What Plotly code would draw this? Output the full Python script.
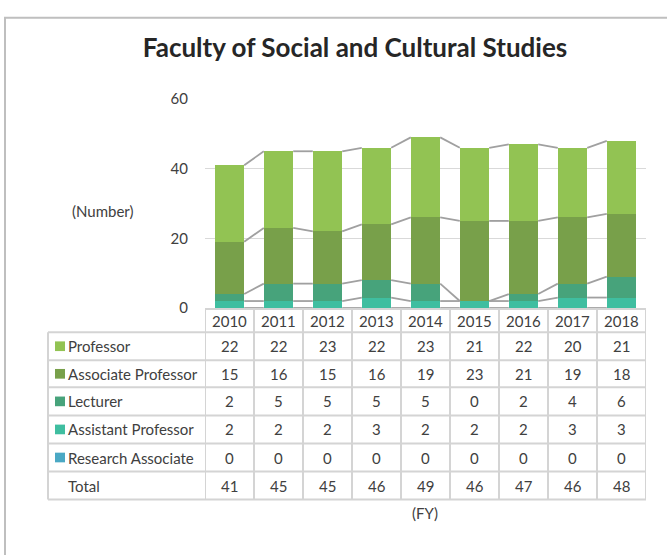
import plotly.graph_objects as go

years = [2010, 2011, 2012, 2013, 2014, 2015, 2016, 2017, 2018]
series_names = ["Professor", "Associate Professor", "Lecturer",
                "Assistant Professor", "Research Associate"]
professor = [22, 22, 23, 22, 23, 21, 22, 20, 21]
associate = [15, 16, 15, 16, 19, 23, 21, 19, 18]
lecturer = [2, 5, 5, 5, 5, 0, 2, 4, 6]
assistant = [2, 2, 2, 3, 2, 2, 2, 3, 3]
research = [0, 0, 0, 0, 0, 0, 0, 0, 0]
totals = [41, 45, 45, 46, 49, 46, 47, 46, 48]
y_ticks = [0, 20, 40, 60]

colors = {
    "Professor": "#92C353",
    "Associate Professor": "#78A04A",
    "Lecturer": "#47A37B",
    "Assistant Professor": "#3FBEA0",
    "Research Associate": "#4AA8C4",
}
values = {
    "Professor": professor,
    "Associate Professor": associate,
    "Lecturer": lecturer,
    "Assistant Professor": assistant,
    "Research Associate": research,
}

W, H = 667, 555
FONT = "Lato"
TXT = "#404040"
LINE = "#D4D4D4"
BAR_W = 0.6
FS = 15


def py(v):
    """pixel row -> paper y"""
    return 1 - v / H


def px_(v):
    return v / W


xs = list(range(len(years)))
fig = go.Figure()

# series lines between bars (Excel style), from the cumulative stack
stack_order = series_names[::-1]
cum = [0] * len(years)
for name in stack_order:
    cum = [c + v for c, v in zip(cum, values[name])]
    lx, ly = [], []
    for i in range(len(years) - 1):
        lx += [xs[i] + BAR_W / 2, xs[i + 1] - BAR_W / 2, None]
        ly += [cum[i], cum[i + 1], None]
    fig.add_trace(go.Scatter(x=lx, y=ly, mode="lines", showlegend=False,
                             hoverinfo="skip",
                             line=dict(color="#A0A0A0", width=1.8)))

for name in stack_order:
    fig.add_trace(go.Bar(x=xs, y=values[name], name=name, width=BAR_W,
                         marker=dict(color=colors[name], line=dict(width=0))))

# table geometry (pixels)
x_left = 48
header_top, header_bot = 309, 333
row_edges = [333, 362, 390, 419, 448, 477, 506]
shapes = []
ann = []

# outer chart border
shapes.append(dict(type="rect", xref="paper", yref="paper",
                   x0=px_(5), x1=px_(W + 10), y0=py(H + 10), y1=py(8),
                   line=dict(color="#BFBFBF", width=2), layer="below"))

# horizontal lines over the year columns
for yy in [header_top, header_bot] + row_edges[1:]:
    shapes.append(dict(type="line", xref="x", yref="paper",
                       x0=-0.5, x1=len(years) - 0.5, y0=py(yy), y1=py(yy),
                       line=dict(color=LINE, width=2)))
# horizontal lines over the label column
for yy in row_edges:
    shapes.append(dict(type="line", xref="paper", yref="paper",
                       x0=px_(x_left), x1=px_(205), y0=py(yy), y1=py(yy),
                       line=dict(color=LINE, width=2)))
# vertical lines
for i in range(len(years) + 1):
    shapes.append(dict(type="line", xref="x", yref="paper",
                       x0=i - 0.5, x1=i - 0.5, y0=py(row_edges[-1]), y1=py(header_top),
                       line=dict(color=LINE, width=2)))
shapes.append(dict(type="line", xref="paper", yref="paper",
                   x0=px_(x_left), x1=px_(x_left), y0=py(row_edges[-1]), y1=py(row_edges[0]),
                   line=dict(color=LINE, width=2)))


def text(x, y, s, xref="paper", xanchor="center"):
    return dict(x=x, y=y, xref=xref, yref="paper", text=s, showarrow=False,
                xanchor=xanchor, yanchor="middle", font=dict(size=FS, color=TXT))


# header years
for i, yr in enumerate(years):
    ann.append(text(i, py((header_top + header_bot) / 2), str(yr), xref="x"))

row_labels = series_names + ["Total"]
row_values = [values[n] for n in series_names] + [totals]
for r, (lab, vals) in enumerate(zip(row_labels, row_values)):
    yc = py((row_edges[r] + row_edges[r + 1]) / 2)
    if lab in colors:
        shapes.append(dict(type="rect", xref="paper", yref="paper",
                           x0=px_(55), x1=px_(65), y0=yc - 5 / H, y1=yc + 5 / H,
                           fillcolor=colors[lab], line=dict(width=0)))
    ann.append(text(px_(66), yc, lab, xanchor="left"))
    for i, v in enumerate(vals):
        ann.append(text(i, yc, str(v), xref="x"))

ann.append(text(px_(103), py(208), "(Number)"))
ann.append(text(px_(425), py(520), "(FY)"))

fig.update_layout(
    width=W, height=H,
    margin=dict(l=0, r=0, t=0, b=0),
    barmode="stack",
    paper_bgcolor="white", plot_bgcolor="white",
    font=dict(family=FONT, color=TXT),
    showlegend=False,
    title=dict(text="<b>Faculty of Social and Cultural Studies</b>",
               x=px_(355), y=py(48), xanchor="center", yanchor="middle",
               font=dict(size=26, color="#262626", family=FONT)),
    xaxis=dict(domain=[px_(205), px_(646)], range=[-0.5, len(years) - 0.5],
               showticklabels=False, showgrid=False, zeroline=False, showline=False),
    yaxis=dict(domain=[py(308), py(92)], range=[0, 60], tickvals=y_ticks,
               showgrid=True, gridcolor="#D9D9D9", gridwidth=1, zeroline=False,
               showline=False, ticks="", ticklabelstandoff=16,
               tickfont=dict(size=FS, color=TXT)),
    shapes=shapes,
    annotations=ann,
)

fig.write_html("out.html", config={"displayModeBar": False},
               post_script="document.body.style.margin='0';")
